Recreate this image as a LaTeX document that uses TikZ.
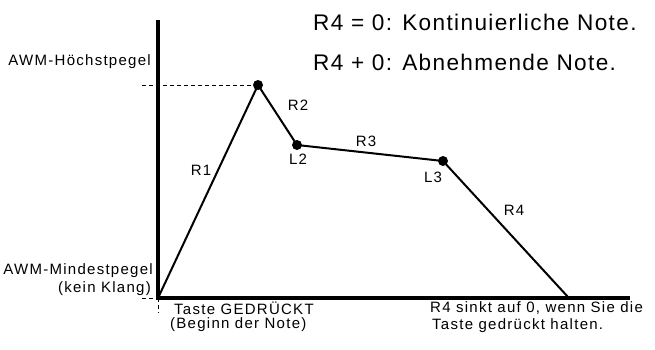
\documentclass[tikz,border=0pt]{standalone}
\usepackage{fontspec}
\setmainfont{Liberation Sans}
\newfontfamily\smallfam[LetterSpace=8.5]{Liberation Sans}
\newfontfamily\bigfam[LetterSpace=6]{Liberation Sans}
\begin{document}
\begin{tikzpicture}[x=1pt,y=-1pt,
  axis/.style={line width=3.2pt},
  env/.style={line width=2pt, line join=round},
  dot/.style={circle, fill=black, inner sep=0pt, minimum size=10pt},
  lbl/.style={font=\smallfam\fontsize{15}{17}\selectfont, inner sep=0pt},
  big/.style={font=\bigfam\fontsize{22.6}{26}\selectfont, inner sep=0pt, anchor=west},
  guide/.style={line width=1pt, dash pattern=on 4pt off 3pt}]
\useasboundingbox (0,0) rectangle (655,349);
% key points
\coordinate (O) at (158,298);
\coordinate (ytop) at (158,20);
\coordinate (xend) at (630,298);
\coordinate (E) at (568,297);
\node[dot] (P) at (258,85) {};
\node[dot] (Lz) at (297,145) {};
\node[dot] (Ld) at (443,161) {};
\coordinate (hl) at (142,85);
\coordinate (ol) at (142,298);
\coordinate (od) at (158,313);
% guides
\draw[guide] (hl) -- (P.center);
\draw[guide] (ol) -- (O);
\draw[guide] (O) -- (od);
% axes
\draw[axis] (ytop) -- (O) -- (xend);
% envelope
\draw[env] (O) -- (P.center) -- (Lz.center) -- (Ld.center) -- (E);
% labels
\node[lbl, anchor=center] (r1) at (201,170) {R1};
\node[lbl, anchor=center] (r2) at (298,105) {R2};
\node[lbl, anchor=center] (l2) at (298,159) {L2};
\node[lbl, anchor=center] (r3) at (366,141) {R3};
\node[lbl, anchor=center] (l3) at (433,177) {L3};
\node[lbl, anchor=center] (r4) at (514,210) {R4};
\node[lbl, anchor=east] (hoch) at (151,62) {AWM-Höchstpegel};
\node[lbl, anchor=east] (mind) at (153,271) {AWM-Mindestpegel};
\node[lbl, anchor=east] (kein) at (151,289) {(kein Klang)};
\node[lbl, anchor=west] (taste) at (174,308) {Taste GEDRÜCKT};
\node[lbl, anchor=west] (beginn) at (170,325) {(Beginn der Note)};
\node[lbl, anchor=west] (sinkt) at (430,308) {R4 sinkt auf 0, wenn Sie die};
\node[lbl, anchor=west] (halten) at (432,326) {Taste gedrückt halten.};
\node[big] (kont) at (313,22) {R4 = 0: Kontinuierliche Note.};
\node[big] (abn) at (313,62) {R4 + 0: Abnehmende Note.};
\end{tikzpicture}
\end{document}
